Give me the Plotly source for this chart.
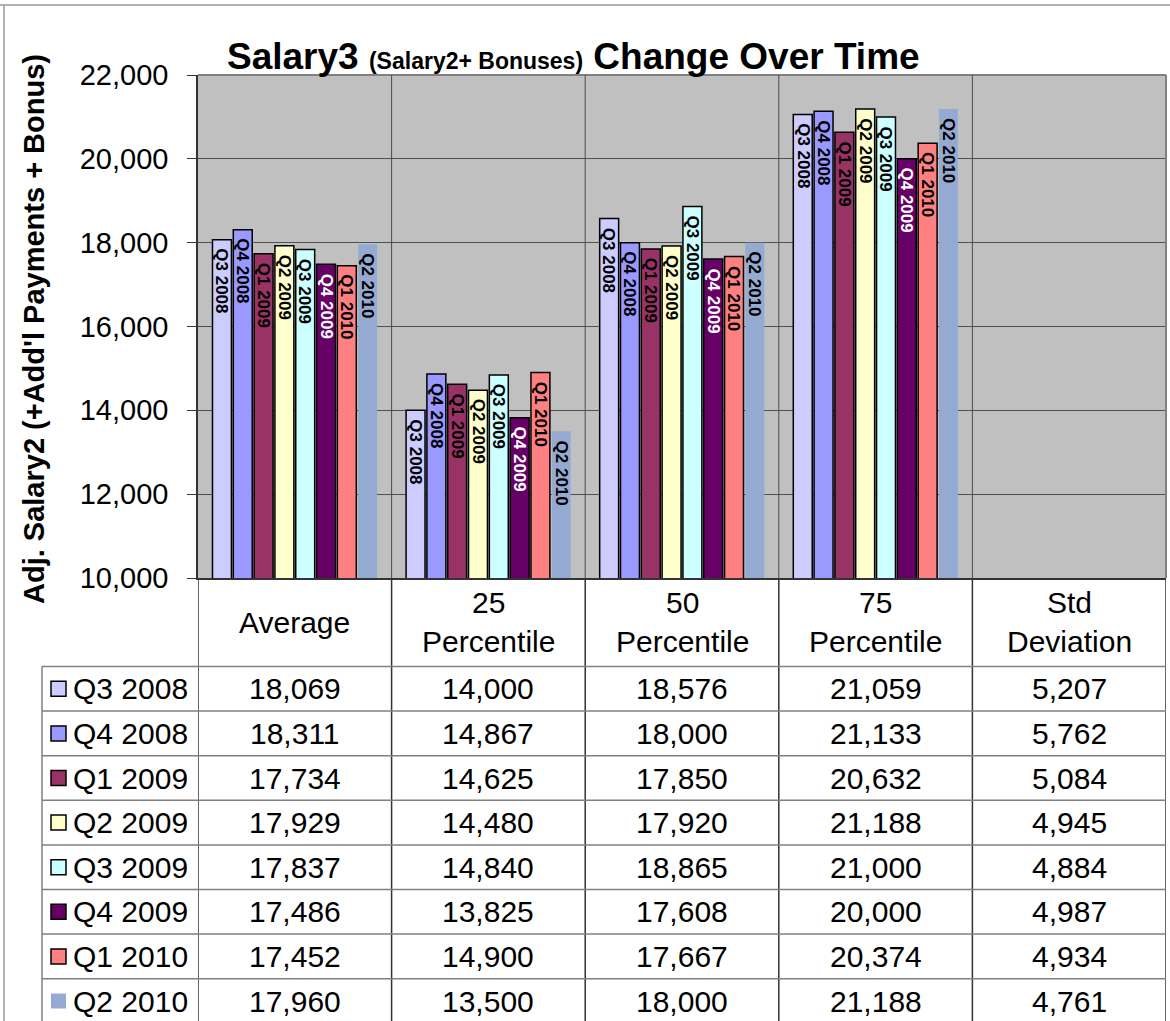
import plotly.graph_objects as go

# Data
categories = ["Average", "25 Percentile", "50 Percentile", "75 Percentile", "Std Deviation"]
quarters = ["Q3 2008", "Q4 2008", "Q1 2009", "Q2 2009", "Q3 2009", "Q4 2009", "Q1 2010", "Q2 2010"]

average = [18069, 18311, 17734, 17929, 17837, 17486, 17452, 17960]
pct25 = [14000, 14867, 14625, 14480, 14840, 13825, 14900, 13500]
pct50 = [18576, 18000, 17850, 17920, 18865, 17608, 17667, 18000]
pct75 = [21059, 21133, 20632, 21188, 21000, 20000, 20374, 21188]
std_dev = [5207, 5762, 5084, 4945, 4884, 4987, 4934, 4761]

columns = [average, pct25, pct50, pct75, std_dev]

colors = ["#CCCCFF", "#9999FF", "#993366", "#FFFFCC", "#CCFFFF", "#660066", "#FF8080", "#95AAD3"]
label_colors = ["black", "black", "black", "black", "black", "white", "black", "black"]

y_min, y_max = 10000, 22000

# Layout helpers (pixel -> paper)
W, H = 1170, 1021
FONT = "Liberation Sans, Arial, sans-serif"
TABLE_SIZE = 30
BARGAP = 0.14


def px(x):
    return x / W


def py(y):
    return 1 - y / H


plot_left, plot_right, plot_top, plot_bottom = 198, 1166, 75, 578
row_top, row_h = 666.5, 44.6

fig = go.Figure()

for i, q in enumerate(quarters):
    vals = [col[i] for col in columns]
    outline = 0 if q == "Q2 2010" else 1.5
    fig.add_trace(go.Bar(
        x=categories,
        y=vals,
        name=q,
        marker=dict(color=colors[i], line=dict(color="black", width=outline)),
        hoverinfo="x+y+name",
    ))

shapes = []
# outer chart border
shapes.append(dict(type="line", xref="paper", yref="paper", x0=0, x1=1, y0=py(5), y1=py(5),
                   line=dict(color="#999999", width=1.5)))
shapes.append(dict(type="line", xref="paper", yref="paper", x0=px(4), x1=px(4), y0=py(5), y1=0,
                   line=dict(color="#999999", width=1.5)))
# plot area top / right border
shapes.append(dict(type="line", xref="paper", yref="paper", x0=px(plot_left), x1=px(plot_right),
                   y0=py(plot_top), y1=py(plot_top), line=dict(color="#808080", width=2)))
shapes.append(dict(type="line", xref="paper", yref="paper", x0=px(plot_right), x1=px(plot_right),
                   y0=py(plot_top), y1=py(plot_bottom), line=dict(color="#808080", width=2)))
# category separators inside the plot
for k in range(1, len(categories)):
    shapes.append(dict(type="line", xref="x", yref="paper", x0=k - 0.5, x1=k - 0.5,
                       y0=py(plot_bottom), y1=py(plot_top), line=dict(color="#4a4a4a", width=1)))
# table vertical lines
for k in range(len(categories) + 1):
    shapes.append(dict(type="line", xref="x", yref="paper", x0=k - 0.5, x1=k - 0.5,
                       y0=0, y1=py(plot_bottom), line=dict(color="#333333", width=1.5)))
# table horizontal lines
for i in range(len(quarters)):
    y = row_top + row_h * i
    shapes.append(dict(type="line", xref="paper", yref="paper", x0=px(42), x1=px(plot_right),
                       y0=py(y), y1=py(y), line=dict(color="#808080", width=1.5)))
shapes.append(dict(type="line", xref="paper", yref="paper", x0=px(42), x1=px(42),
                   y0=py(row_top), y1=0, line=dict(color="#808080", width=1.5)))
# legend keys
for i, q in enumerate(quarters):
    yc = row_top + row_h * (i + 0.5)
    shapes.append(dict(type="rect", xref="paper", yref="paper",
                       x0=px(51), x1=px(66), y0=py(yc - 7.5), y1=py(yc + 7.5),
                       fillcolor=colors[i],
                       line=dict(color="black", width=0 if q == "Q2 2010" else 1.5)))

annotations = []
# rotated series labels at the top of each visible bar
slot = (1 - BARGAP) / len(quarters)
for i, q in enumerate(quarters):
    for k, col in enumerate(columns):
        if col[i] <= y_min:
            continue
        annotations.append(dict(
            text=f"<b>{q}</b>", xref="x", yref="y",
            x=k + (i - (len(quarters) - 1) / 2) * slot, y=col[i],
            xanchor="center", yanchor="top", yshift=-7, textangle=90, showarrow=False,
            font=dict(family=FONT, size=17, color=label_colors[i])))

annotations.append(dict(
    text="<b>Salary3 <span style='font-size:23px'>(Salary2+ Bonuses)</span> Change Over Time</b>",
    xref="paper", yref="paper", x=px(573), y=py(57), xanchor="center", yanchor="middle",
    showarrow=False, font=dict(family=FONT, size=37, color="black")))
annotations.append(dict(
    text="<b>Adj. Salary2 (+Add'l Payments + Bonus)</b>",
    xref="paper", yref="paper", x=px(34), y=py(329), xanchor="center", yanchor="middle",
    textangle=-90, showarrow=False, font=dict(family=FONT, size=29, color="black")))
# header row
for k, c in enumerate(categories):
    annotations.append(dict(
        text=c.replace(" ", "<br>"), xref="x", yref="paper", x=k, y=py(622),
        xanchor="center", yanchor="middle", showarrow=False,
        font=dict(family=FONT, size=TABLE_SIZE, color="black")))
# data rows
for i, q in enumerate(quarters):
    yc = row_top + row_h * (i + 0.5)
    annotations.append(dict(
        text=q, xref="paper", yref="paper", x=px(71), y=py(yc), xanchor="left", yanchor="middle",
        showarrow=False, font=dict(family=FONT, size=TABLE_SIZE, color="black")))
    for k, col in enumerate(columns):
        annotations.append(dict(
            text=f"{col[i]:,}", xref="x", yref="paper", x=k, y=py(yc),
            xanchor="center", yanchor="middle", showarrow=False,
            font=dict(family=FONT, size=TABLE_SIZE, color="black")))

fig.update_layout(
    width=W, height=H,
    margin=dict(l=0, r=0, t=0, b=0, pad=0, autoexpand=False),
    paper_bgcolor="white",
    plot_bgcolor="#C0C0C0",
    barmode="group",
    bargap=BARGAP,
    bargroupgap=0.09,
    showlegend=False,
    font=dict(family=FONT, color="black"),
    xaxis=dict(domain=[px(plot_left), px(plot_right)], range=[-0.5, 4.5],
               showticklabels=False, ticks="", showgrid=False, automargin=False,
               showline=True, linecolor="#333333", linewidth=1.5),
    yaxis=dict(domain=[py(plot_bottom), py(plot_top)], range=[y_min, y_max],
               dtick=2000, tickformat=",", ticks="outside", ticklen=9,
               tickcolor="#333333", showline=True, linecolor="#333333", linewidth=1.5,
               gridcolor="#505050", gridwidth=1, zeroline=False, automargin=False,
               ticklabelstandoff=13,
               tickfont=dict(family=FONT, size=29, color="black")),
    shapes=shapes,
    annotations=annotations,
)

# drop the default page margin so the figure sits at the window's top-left corner
fig.write_html("out.html", config={"displayModeBar": False},
               post_script="document.body.style.margin = '0px';")
